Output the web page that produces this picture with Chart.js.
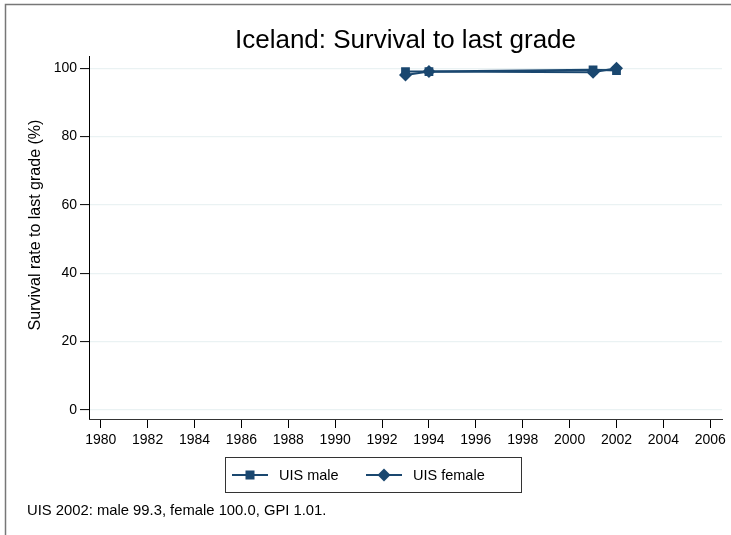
<!DOCTYPE html>
<html>
<head>
<meta charset="utf-8">
<script src="https://cdn.jsdelivr.net/npm/chart.js@4.4.1/dist/chart.umd.min.js"></script>
<style>
html,body{margin:0;padding:0;background:#fff;overflow:hidden;}
#wrap{position:relative;width:731px;height:535px;}
canvas{display:block;}
</style>
</head>
<body>
<div id="wrap"><canvas id="c" width="731" height="535"></canvas></div>
<script>
// ---- data ----
const years = [1993, 1994, 2001, 2002];
const maleValues = [99.0, 99.0, 99.5, 99.3];
const femaleValues = [98.0, 99.0, 98.8, 100.0];
const xTickValues = [1980,1982,1984,1986,1988,1990,1992,1994,1996,1998,2000,2002,2004,2006];
const yTickValues = [0,20,40,60,80,100];
const seriesNames = ['UIS male', 'UIS female'];
const titleText = 'Iceland: Survival to last grade';
const yTitleText = 'Survival rate to last grade (%)';
const noteText = 'UIS 2002: male 99.3, female 100.0, GPI 1.01.';

const NAVY = '#1a476f';
const FONT = '"Liberation Sans", Arial, Helvetica, sans-serif';

function pts(xs, ys){ return xs.map((x,i)=>({x:x, y:ys[i]})); }

const decor = {
  id: 'decor',
  beforeDraw(chart){
    const ctx = chart.ctx;
    ctx.save();
    ctx.fillStyle = '#fff';
    ctx.fillRect(0, 0, 731, 535);
    ctx.strokeStyle = '#777';
    ctx.lineWidth = 1.5;
    ctx.beginPath();
    ctx.moveTo(5.5, 535);
    ctx.lineTo(5.5, 4.5);
    ctx.lineTo(731, 4.5);
    ctx.stroke();
    ctx.restore();
  },
  afterDraw(chart){
    const ctx = chart.ctx;
    ctx.save();
    // y axis title
    ctx.fillStyle = '#000';
    ctx.font = '16px ' + FONT;
    ctx.textAlign = 'center';
    ctx.textBaseline = 'middle';
    ctx.translate(36, 225);
    ctx.rotate(-Math.PI/2);
    ctx.fillText(yTitleText, 0, 0);
    ctx.restore();

    // legend
    ctx.save();
    ctx.strokeStyle = '#333';
    ctx.lineWidth = 1;
    ctx.strokeRect(225.5, 457.5, 296, 35);
    const ds = chart.data.datasets;
    const items = [{x0:232, tx:279}, {x0:366, tx:413}];
    const ly = 475;
    items.forEach((it, i) => {
      const d = ds[i];
      ctx.strokeStyle = d.borderColor;
      ctx.lineWidth = 2;
      ctx.beginPath();
      ctx.moveTo(it.x0, ly);
      ctx.lineTo(it.x0 + 36, ly);
      ctx.stroke();
      ctx.fillStyle = d.pointBackgroundColor;
      const cx = it.x0 + 18;
      if (d.pointStyle === 'rect') {
        ctx.fillRect(cx - 4.5, ly - 4.5, 9, 9);
      } else {
        ctx.beginPath();
        ctx.moveTo(cx, ly - 6.5);
        ctx.lineTo(cx + 6.5, ly);
        ctx.lineTo(cx, ly + 6.5);
        ctx.lineTo(cx - 6.5, ly);
        ctx.closePath();
        ctx.fill();
      }
      ctx.fillStyle = '#000';
      ctx.font = '14.5px ' + FONT;
      ctx.textAlign = 'left';
      ctx.textBaseline = 'middle';
      ctx.fillText(d.label, it.tx, ly + 1);
    });
    // note
    ctx.font = '14.8px ' + FONT;
    ctx.fillStyle = '#000';
    ctx.textAlign = 'left';
    ctx.textBaseline = 'alphabetic';
    ctx.fillText(noteText, 27, 515);
    // clear far right edge strip
    ctx.fillStyle = '#fff';
    ctx.fillRect(727, 6, 4, 529);
    ctx.restore();
  }
};

new Chart(document.getElementById('c'), {
  type: 'line',
  data: {
    datasets: [
      {
        label: seriesNames[0],
        data: pts(years, maleValues),
        borderColor: NAVY,
        backgroundColor: NAVY,
        pointBackgroundColor: NAVY,
        pointBorderColor: NAVY,
        pointStyle: 'rect',
        pointRadius: 6.2,
        pointBorderWidth: 0,
        borderWidth: 2,
        tension: 0
      },
      {
        label: seriesNames[1],
        data: pts(years, femaleValues),
        borderColor: NAVY,
        backgroundColor: NAVY,
        pointBackgroundColor: NAVY,
        pointBorderColor: NAVY,
        pointStyle: 'rectRot',
        pointRadius: 6.5,
        pointBorderWidth: 0,
        borderWidth: 2,
        tension: 0
      }
    ]
  },
  options: {
    responsive: false,
    animation: false,
    devicePixelRatio: 1,
    layout: { padding: { left: 0, right: 9, top: 0, bottom: 0 } },
    plugins: {
      legend: { display: false },
      tooltip: { enabled: false },
      title: {
        display: true,
        fullSize: false,
        text: titleText,
        color: '#000',
        font: { family: FONT, size: 26, weight: 'normal', lineHeight: 1.2 },
        padding: { top: 25, bottom: 0 }
      }
    },
    scales: {
      x: {
        type: 'linear',
        min: 1979.5,
        max: 2006.5,
        afterFit(scale){ scale.height = 116; },
        afterBuildTicks(scale){ scale.ticks = xTickValues.map(v => ({value: v})); },
        ticks: {
          autoSkip: false, maxRotation: 0, minRotation: 0,
          color: '#000', padding: 4,
          font: { family: FONT, size: 14 },
          callback: v => String(v)
        },
        grid: {
          drawOnChartArea: false, drawTicks: true, tickLength: 9,
          tickColor: '#000', tickWidth: 1
        },
        border: { display: true, color: '#333', width: 1 }
      },
      y: {
        type: 'linear',
        min: -2.7,
        max: 103.5,
        afterFit(scale){ scale.width = 89; },
        afterBuildTicks(scale){ scale.ticks = yTickValues.map(v => ({value: v})); },
        ticks: {
          autoSkip: false, color: '#000', padding: 3,
          font: { family: FONT, size: 14 },
          callback: v => String(v)
        },
        grid: {
          drawOnChartArea: true, color: '#eaf2f3', lineWidth: 1.2,
          drawTicks: true, tickLength: 9, tickColor: '#000', tickWidth: 1
        },
        border: { display: true, color: '#000', width: 1 }
      }
    }
  },
  plugins: [decor]
});
</script>
</body>
</html>
